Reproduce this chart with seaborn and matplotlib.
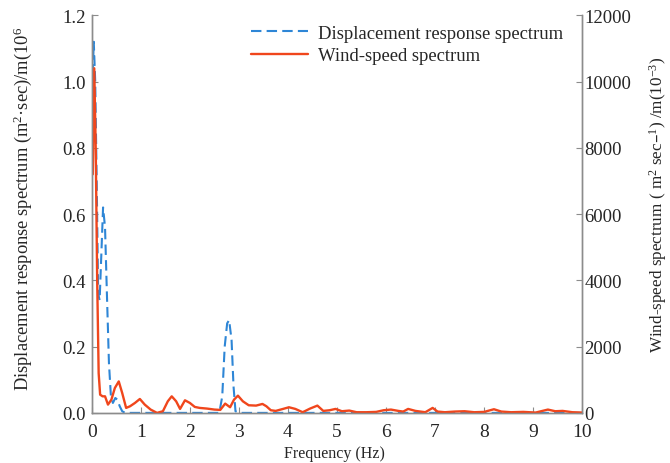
# -*- coding: utf-8 -*-
import numpy as np
import pandas as pd
import matplotlib
matplotlib.use("Agg")
import matplotlib.pyplot as plt
import seaborn as sns

# displacement response spectrum (left axis)
freq_disp = [0.02, 0.04, 0.07, 0.10, 0.13, 0.16, 0.20, 0.23, 0.27, 0.31, 0.35, 0.39, 0.43,
             0.48, 0.52, 0.57, 0.62, 0.68, 1.0, 2.0, 2.6, 2.66, 2.71, 2.76, 2.80, 2.85,
             2.89, 2.93, 3.0, 4.0, 6.0, 8.0, 10.0]
disp = [1.02, 1.12, 1.00, 0.70, 0.36, 0.34, 0.50, 0.62, 0.56, 0.35, 0.15, 0.05, 0.03,
        0.045, 0.04, 0.02, 0.005, 0.0, 0.0, 0.0, 0.0, 0.05, 0.20, 0.27, 0.28, 0.22,
        0.08, 0.005, 0.0, 0.0, 0.0, 0.0, 0.0]

# wind-speed spectrum (right axis)
freq_wind = [0.02, 0.05, 0.08, 0.11, 0.14, 0.17, 0.22, 0.27, 0.33, 0.40, 0.47, 0.55, 0.62,
             0.70, 0.78, 0.88, 0.98, 1.08, 1.20, 1.33, 1.45, 1.55, 1.63, 1.72, 1.80, 1.90,
             2.00, 2.10, 2.20, 2.35, 2.50, 2.62, 2.72, 2.82, 2.90, 2.98, 3.08, 3.20, 3.35,
             3.48, 3.56, 3.65, 3.75, 3.90, 4.02, 4.15, 4.30, 4.45, 4.60, 4.72, 4.85, 4.97,
             5.10, 5.25, 5.40, 5.60, 5.80, 5.95, 6.10, 6.25, 6.35, 6.45, 6.60, 6.80, 6.95,
             7.05, 7.20, 7.40, 7.60, 7.80, 8.00, 8.20, 8.35, 8.55, 8.80, 9.05, 9.30, 9.45,
             9.60, 9.80, 10.0]
wind = [7200, 10400, 8000, 4000, 1200, 550, 500, 500, 250, 400, 750, 950, 600,
        150, 200, 300, 420, 250, 100, 0, 50, 350, 500, 350, 120, 380,
        300, 180, 150, 130, 100, 90, 280, 170, 400, 520, 350, 230, 220,
        270, 200, 80, 60, 120, 170, 120, 20, 130, 220, 60, 80, 120,
        50, 70, 20, 20, 30, 80, 100, 60, 40, 120, 60, 20, 150,
        40, 20, 40, 50, 20, 30, 110, 40, 20, 30, 10, 100, 50,
        60, 20, 10]

x_ticks = list(range(0, 11))
left_ticks = [0.0, 0.2, 0.4, 0.6, 0.8, 1.0, 1.2]
right_ticks = [0, 2000, 4000, 6000, 8000, 10000, 12000]

blue = "#2e86d6"
red = "#f0461c"
grey = "#8c8c8c"


def main():
    sns.set_style("ticks")
    plt.rcParams['font.family'] = ['Liberation Serif', 'DejaVu Serif']
    plt.rcParams['mathtext.default'] = 'regular'

    df_d = pd.DataFrame({'f': freq_disp, 'v': disp})
    df_w = pd.DataFrame({'f': freq_wind, 'v': wind})

    fig = plt.figure(figsize=(6.7, 4.64), dpi=100)
    ax = fig.add_axes([0.137, 0.108, 0.732, 0.857])
    ax2 = ax.twinx()

    sns.lineplot(data=df_d, x='f', y='v', ax=ax, color=blue, lw=1.5,
                 label='Displacement response spectrum', legend=False)
    ax.lines[0].set_dashes((5, 2.5))
    sns.lineplot(data=df_w, x='f', y='v', ax=ax2, color=red, lw=1.7,
                 label='Wind-speed spectrum', legend=False)

    ax.set_xlim(0, 10)
    ax.set_ylim(0, 1.2)
    ax2.set_ylim(0, 12000)
    ax.set_xticks(x_ticks)
    ax.set_xticklabels([str(t) for t in x_ticks])
    ax.set_yticks(left_ticks)
    ax.set_yticklabels(['%.1f' % t for t in left_ticks])
    ax2.set_yticks(right_ticks)
    ax2.set_yticklabels([str(t) for t in right_ticks])

    for a in (ax, ax2):
        a.spines['top'].set_visible(False)
        for s in ('left', 'right', 'bottom'):
            a.spines[s].set_color(grey)
            a.spines[s].set_linewidth(1.0)
        a.tick_params(direction='in', length=4, color=grey, labelsize=13.5)
    ax.tick_params(axis='y', pad=4.5)
    ax.tick_params(axis='x', pad=7, labelsize=14)
    ax2.tick_params(axis='y', pad=1.5)

    ax.set_xlabel('Frequency (Hz)', fontsize=11.5)
    ax.xaxis.set_label_coords(0.494, -0.08)
    ax.set_ylabel('Displacement response spectrum (m$^2$·sec)/m(10$^6$', fontsize=13.3)
    ax.yaxis.set_label_coords(-0.118, 0.515)
    ax2.set_ylabel('Wind-speed spectrum ( m$^2$ sec\u2013$^1$) /m(10$^{-3}$)', fontsize=12.3)
    ax2.yaxis.set_label_coords(1.132, 0.525)

    h1, l1 = ax.get_legend_handles_labels()
    h2, l2 = ax2.get_legend_handles_labels()
    ax2.legend(h1 + h2, l1 + l2, loc='upper right', bbox_to_anchor=(0.979, 1.0),
               frameon=False, fontsize=13.4, handlelength=3.1, handletextpad=0.5,
               labelspacing=0.3, borderaxespad=0.1)

    fig.savefig('out.png', dpi=100)


if __name__ == "__main__":
    main()
